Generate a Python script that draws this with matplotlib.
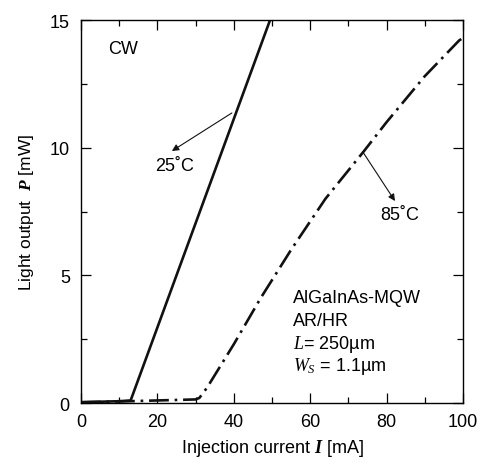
import matplotlib
matplotlib.use("Agg")
import matplotlib.pyplot as plt
from matplotlib.ticker import MultipleLocator

plt.rcParams['font.family'] = ['Liberation Sans', 'DejaVu Sans']
plt.rcParams['mathtext.fontset'] = 'custom'
plt.rcParams['mathtext.rm'] = 'Liberation Sans'
plt.rcParams['mathtext.it'] = 'Liberation Serif:italic'
plt.rcParams['mathtext.bfit'] = 'Liberation Serif:italic:bold'

# curva a 25 C
i_25 = [0, 5, 10, 13, 49.5]
p_25 = [0.03, 0.05, 0.07, 0.1, 15.0]

# curva a 85 C
i_85 = [0, 10, 20, 30, 31, 33, 40, 47, 55, 64, 74, 80, 90, 99, 100]
p_85 = [0.03, 0.06, 0.1, 0.14, 0.2, 0.6, 2.3, 4.1, 6.0, 8.0, 9.85, 11.0, 12.8, 14.2, 14.3]

FS = 13

fig = plt.figure(figsize=(4.95, 4.64), dpi=100)
ax = fig.add_axes([0.1636, 0.1293, 0.7717, 0.8254])

ax.plot(i_25, p_25, color='#111111', lw=1.9, solid_capstyle='butt')
ax.plot(i_85, p_85, color='#111111', lw=1.9, dashes=(7.5, 2.2, 1, 2.2))

ax.set_xlim(0, 100)
ax.set_ylim(0, 15)
ax.xaxis.set_major_locator(MultipleLocator(20))
ax.xaxis.set_minor_locator(MultipleLocator(10))
ax.yaxis.set_major_locator(MultipleLocator(5))
ax.yaxis.set_minor_locator(MultipleLocator(2.5))
ax.tick_params(which='both', direction='in', top=True, right=True,
               labelsize=FS, width=0.9)
ax.tick_params(axis='x', pad=7)
ax.tick_params(axis='y', pad=8)
ax.tick_params(which='major', length=7)
ax.tick_params(which='minor', length=4.5)
for s in ax.spines.values():
    s.set_linewidth(1.0)

ax.set_xlabel(r'Injection current $\mathbfit{I}$ [mA]', fontsize=FS, labelpad=5)
ax.set_ylabel(r'Light output  $\mathbfit{P}$ [mW]', fontsize=12.5, labelpad=10)

ax.text(7.1, 13.9, 'CW', fontsize=FS, va='center')

ax.annotate('', xy=(23.8, 9.87), xytext=(39.5, 11.36),
            arrowprops=dict(arrowstyle='-|>', color='#111111', lw=0.8,
                            mutation_scale=10, shrinkA=0, shrinkB=0))
ax.text(24.6, 9.3, '25˚C', fontsize=FS, ha='center', va='center')

ax.annotate('', xy=(82.2, 7.91), xytext=(73.8, 9.83),
            arrowprops=dict(arrowstyle='-|>', color='#111111', lw=0.8,
                            mutation_scale=10, shrinkA=0, shrinkB=0))
ax.text(83.5, 7.4, '85˚C', fontsize=FS, ha='center', va='center')

ax.text(55.5, 4.15, 'AlGaInAs-MQW', fontsize=FS, va='center')
ax.text(55.5, 3.25, 'AR/HR', fontsize=FS, va='center')
ax.text(55.5, 2.35, r'$L$= 250µm', fontsize=FS, va='center')
ax.text(55.5, 1.45, r'$W_S$ = 1.1µm', fontsize=FS, va='center')

fig.savefig('out.png', dpi=100)
